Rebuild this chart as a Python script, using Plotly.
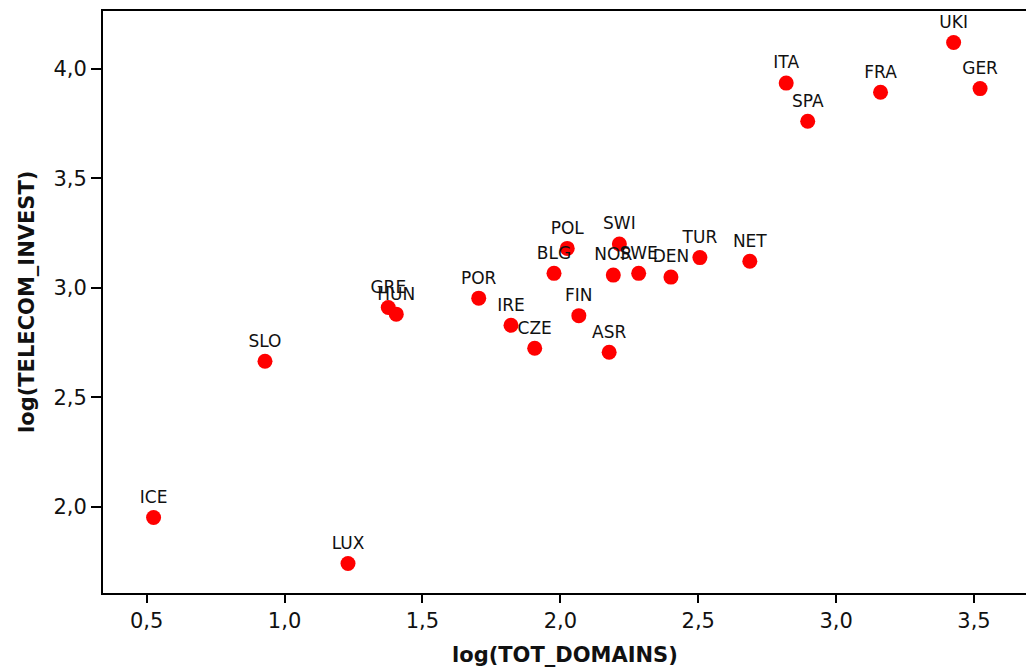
import plotly.graph_objects as go

countries = ["ICE", "LUX", "SLO", "GRE", "HUN", "POR", "IRE", "CZE", "BLG", "POL",
             "FIN", "ASR", "NOR", "SWI", "SWE", "DEN", "TUR", "NET", "ITA", "SPA",
             "FRA", "UKI", "GER"]
log_tot_domains = [0.525, 1.230, 0.929, 1.376, 1.405, 1.704, 1.821, 1.907, 1.977, 2.025,
                   2.067, 2.177, 2.192, 2.214, 2.284, 2.401, 2.506, 2.687, 2.819, 2.897,
                   3.161, 3.426, 3.522]
log_telecom_invest = [1.952, 1.742, 2.665, 2.910, 2.880, 2.953, 2.829, 2.724, 3.066, 3.180,
                      2.873, 2.706, 3.058, 3.200, 3.066, 3.049, 3.138, 3.121, 3.934, 3.760,
                      3.892, 4.119, 3.909]

x_ticks = [0.5, 1.0, 1.5, 2.0, 2.5, 3.0, 3.5]
x_tick_labels = ["0,5", "1,0", "1,5", "2,0", "2,5", "3,0", "3,5"]
y_ticks = [2.0, 2.5, 3.0, 3.5, 4.0]
y_tick_labels = ["2,0", "2,5", "3,0", "3,5", "4,0"]

x_title = "log(TOT_DOMAINS)"
y_title = "log(TELECOM_INVEST)"

FONT = "DejaVu Sans"

fig = go.Figure()
fig.add_trace(go.Scatter(
    x=log_tot_domains, y=log_telecom_invest, mode="markers+text",
    text=countries, textposition="top center",
    textfont=dict(family=FONT, size=17, color="#111111"),
    marker=dict(color="#ff0000", size=15, line=dict(width=0)),
    showlegend=False, cliponaxis=False,
))

fig.update_layout(
    width=1026, height=669,
    margin=dict(l=103, r=0, t=11, b=76),
    paper_bgcolor="white", plot_bgcolor="white",
    font=dict(family=FONT, color="#111111"),
    xaxis=dict(
        range=[0.3416, 3.6885], tickvals=x_ticks, ticktext=x_tick_labels,
        showgrid=False, zeroline=False, showline=True, linecolor="black", linewidth=2,
        mirror=True, ticks="outside", ticklen=8, tickwidth=1.5, tickcolor="black",
        tickfont=dict(family=FONT, size=21, color="#111111"),
    ),
    yaxis=dict(
        range=[1.6077, 4.263], tickvals=y_ticks, ticktext=y_tick_labels,
        showgrid=False, zeroline=False, showline=True, linecolor="black", linewidth=2,
        ticks="outside", ticklen=10, tickwidth=1.5, tickcolor="black",
        tickfont=dict(family=FONT, size=21, color="#111111"),
    ),
    annotations=[
        dict(text="<b>" + x_title + "</b>", xref="paper", yref="paper", x=0.5, y=0,
             xanchor="center", yanchor="middle", yshift=-62, showarrow=False,
             font=dict(family=FONT, size=21, color="#111111")),
        dict(text="<b>" + y_title + "</b>", xref="paper", yref="paper", x=0, y=0.5,
             xanchor="center", yanchor="middle", xshift=-76, textangle=-90, showarrow=False,
             font=dict(family=FONT, size=21, color="#111111")),
    ],
)

fig.write_html("out.html")
